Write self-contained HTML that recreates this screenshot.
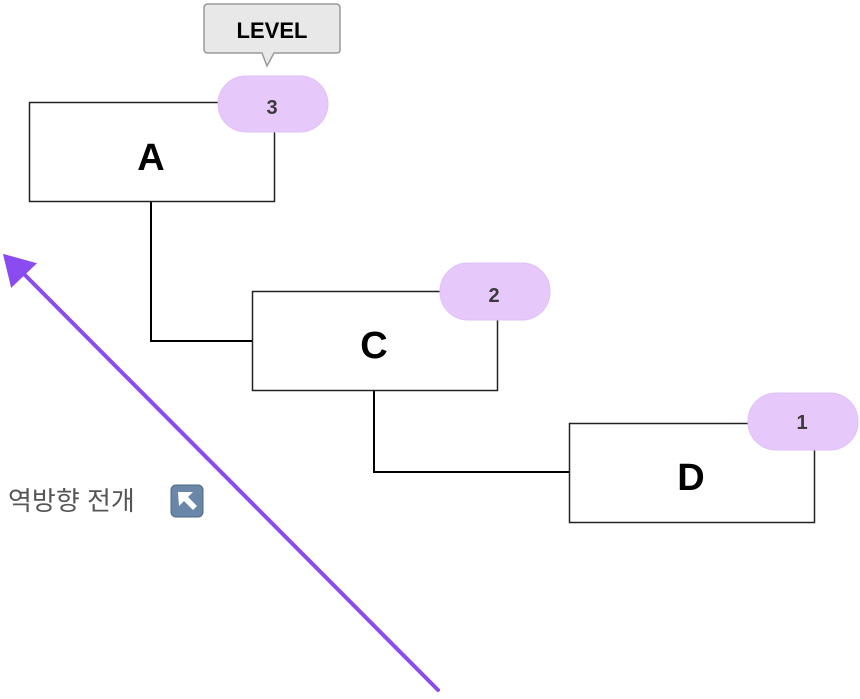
<!DOCTYPE html>
<html><head><meta charset="utf-8"><style>
html,body{margin:0;padding:0;background:#fff;width:860px;height:699px;overflow:hidden}
</style></head><body>
<svg width="860" height="699" xmlns="http://www.w3.org/2000/svg" font-family="Liberation Sans, Arial, sans-serif">
<g fill="none" stroke="#000" stroke-width="2">
<path d="M151 201 V341 H252"/>
<path d="M374 390 V472 H569"/>
</g>
<g fill="#fff" stroke="#222" stroke-width="1.5">
<rect x="29.5" y="102.5" width="245" height="99"/>
<rect x="252.5" y="291.5" width="245" height="99"/>
<rect x="569.5" y="423.5" width="245" height="99"/>
</g>
<g font-weight="bold" font-size="38" text-anchor="middle" fill="#000">
<text x="151" y="170">A</text>
<text x="374" y="358">C</text>
<text x="691" y="490">D</text>
</g>
<g fill="#e6c8fb" stroke="#e0c0f8" stroke-width="1">
<rect x="218" y="76" width="110" height="56" rx="28"/>
<rect x="440" y="263" width="110" height="57" rx="28"/>
<rect x="748" y="393" width="110" height="57" rx="28"/>
</g>
<g font-weight="bold" font-size="20" text-anchor="middle" fill="#3a3a3a">
<text x="272" y="114">3</text>
<text x="494" y="302">2</text>
<text x="802" y="429">1</text>
</g>
<path d="M208 4 H336 Q340 4 340 8 V50 Q340 53 336 53 H274 L267 66 L262 53 H208 Q204 53 204 49 V8 Q204 4 208 4 Z" fill="#e8e8e8" stroke="#999" stroke-width="1.5"/>
<text x="272" y="38" font-weight="bold" font-size="22" text-anchor="middle" fill="#000">LEVEL</text>
<g stroke="#8a4bf0" stroke-linecap="round" fill="#8a4bf0">
<line x1="438" y1="690" x2="18" y2="268" stroke-width="4"/>
<polygon points="5,256 34,264 12,285" stroke-width="3"/>
</g>
<text x="8" y="510" font-size="26" fill="#555" font-family="Liberation Sans, Noto Sans CJK KR, sans-serif">역방향 전개</text>
<rect x="171" y="485" width="32" height="32" rx="5" fill="#6a86a8" stroke="#4d6785" stroke-width="1"/>
<path d="M178 492 H193 L188 497 L197 506 L193 510 L184 501 L179 506 Z" fill="#fff"/>
</svg>
</body></html>
